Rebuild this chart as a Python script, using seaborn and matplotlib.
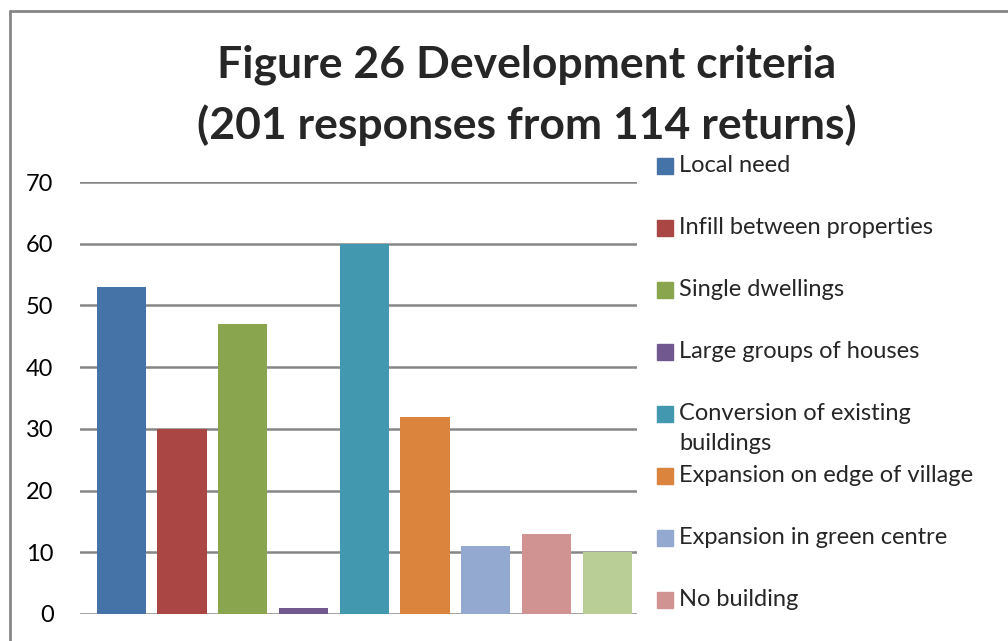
import matplotlib
matplotlib.use("Agg")
import matplotlib.pyplot as plt
from matplotlib.lines import Line2D
from matplotlib.patches import Rectangle
import seaborn as sns

# datos de la figura
categorias = ["Local need", "Infill between properties", "Single dwellings",
              "Large groups of houses", "Conversion of existing\nbuildings",
              "Expansion on edge of village", "Expansion in green centre",
              "No building", "Other"]
valores = [53, 30, 47, 1, 60, 32, 11, 13, 10]
colores = ["#4572A7", "#AA4643", "#89A54E", "#71588F", "#4198AF",
           "#DB843D", "#93A9CF", "#D19392", "#B9CD96"]
yticks = [0, 10, 20, 30, 40, 50, 60, 70]
titulo = ["Figure 26 Development criteria", "(201 responses from 114 returns)"]

sns.set_style("white")
plt.rcParams["font.family"] = ["Lato", "DejaVu Sans"]

W, H = 1008, 641
fig = plt.figure(figsize=(W / 100, H / 100), dpi=100)
ax = fig.add_axes([80 / W, (H - 614) / H, (637 - 80) / W, (614 - 182) / H])

sns.barplot(x=list(range(len(valores))), y=valores, hue=list(range(len(valores))),
            palette=colores, width=0.81, legend=False, ax=ax, saturation=1,
            linewidth=0)

ax.set_ylim(0, 70)
ax.set_xlim(-0.68, 8.49)
ax.set_yticks(yticks)
ax.set_yticklabels([str(t) for t in yticks], fontsize=17, color="black")
ax.set_xticks([])
ax.set_xlabel("")
ax.set_ylabel("")
ax.tick_params(axis="y", length=0, pad=19)
for t in yticks:
    ax.axhline(t, color="#868686", lw=1.8, zorder=0)
for s in ax.spines.values():
    s.set_visible(False)

# titulo
fig.text(527 / W, 1 - 65 / H, titulo[0], ha="center", va="center",
         fontsize=32, fontweight="bold")
fig.text(527 / W, 1 - 125 / H, titulo[1], ha="center", va="center",
         fontsize=32, fontweight="bold")

# leyenda manual (la novena entrada queda fuera del lienzo en el original)
for i, (lab, col) in enumerate(zip(categorias[:8], colores[:8])):
    yc = 166 + 62 * i
    fig.add_artist(Rectangle((657 / W, 1 - (yc + 8) / H), 16 / W, 16 / H,
                             transform=fig.transFigure, color=col))
    for k, linea in enumerate(lab.split("\n")):
        fig.text(679 / W, 1 - (yc + 30 * k) / H, linea, ha="left",
                 va="center", fontsize=17)

# borde
fig.add_artist(Line2D([10 / W, 10 / W], [0, 1 - 11 / H], color="#868686", lw=2,
                      transform=fig.transFigure))
fig.add_artist(Line2D([10 / W, 1], [1 - 11 / H, 1 - 11 / H], color="#868686", lw=2,
                      transform=fig.transFigure))

plt.savefig("out.png", dpi=100)
